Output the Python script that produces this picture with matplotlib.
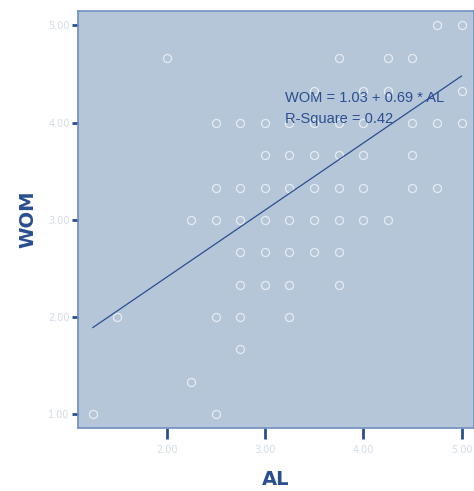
import matplotlib.pyplot as plt

# data: AL (x) vs WOM (y), one list per WOM row
rows = {
    5.00: [4.75, 5.0],
    4.67: [2.0, 3.75, 4.25, 4.5],
    4.33: [3.5, 4.0, 4.25, 5.0],
    4.00: [2.5, 2.75, 3.0, 3.25, 3.5, 3.75, 4.0, 4.5, 4.75, 5.0],
    3.67: [3.0, 3.25, 3.5, 3.75, 4.0, 4.5],
    3.33: [2.5, 2.75, 3.0, 3.25, 3.5, 3.75, 4.0, 4.5, 4.75],
    3.00: [2.25, 2.5, 2.75, 3.0, 3.25, 3.5, 3.75, 4.0, 4.25],
    2.67: [2.75, 3.0, 3.25, 3.5, 3.75],
    2.33: [2.75, 3.0, 3.25, 3.75],
    2.00: [1.5, 2.5, 2.75, 3.25],
    1.67: [2.75],
    1.33: [2.25],
    1.00: [1.25, 2.5],
}
al = []
wom = []
for yv, xs in rows.items():
    for xv in xs:
        al.append(xv)
        wom.append(yv)

intercept = 1.03
slope = 0.69
r2 = 0.42
ticks = [1.0, 2.0, 3.0, 4.0, 5.0]

dark = '#2a4f8f'
bg = '#b6c6d9'

fig = plt.figure(figsize=(4.74, 4.91), dpi=100)
ax = fig.add_axes([0.1646, 0.1283, 0.8354, 0.8493])
ax.set_facecolor(bg)

ax.plot(al, wom, 'o', ms=5.8, mfc='none', mec='#e6ebf2', mew=0.9)

# fit line over the range of AL
x0, x1 = min(al), max(al)
ax.plot([x0, x1], [intercept + slope * x0, intercept + slope * x1], color=dark, lw=0.9)

ax.text(3.20, 4.25, f'WOM = {intercept:.2f} + {slope:.2f} * AL', color=dark, fontsize=10.5,
        family='Liberation Sans', va='center')
ax.text(3.20, 4.04, f'R-Square = {r2:.2f}', color=dark, fontsize=10.5,
        family='Liberation Sans', va='center')

ax.set_xlim(1.099, 5.127)
ax.set_ylim(0.859, 5.149)
ax.set_xticks(ticks[1:])
ax.set_yticks(ticks)
ax.set_xticklabels([f'{t:.2f}' for t in ticks[1:]])
ax.set_yticklabels([f'{t:.2f}' for t in ticks])
ax.tick_params(axis='x', length=8, width=2, color=dark, labelcolor='#d2dbe8', labelsize=7, pad=4)
ax.tick_params(axis='y', length=4, width=2, color=dark, labelcolor='#d2dbe8', labelsize=7, pad=2)
for s in ax.spines.values():
    s.set_color('#6f8fbf')
    s.set_linewidth(1.2)

ax.set_xlabel('AL', color=dark, fontsize=14, fontweight='bold', labelpad=11)
ax.set_ylabel('WOM', color=dark, fontsize=14, fontweight='bold', labelpad=8)

plt.savefig('out.png', dpi=100)
